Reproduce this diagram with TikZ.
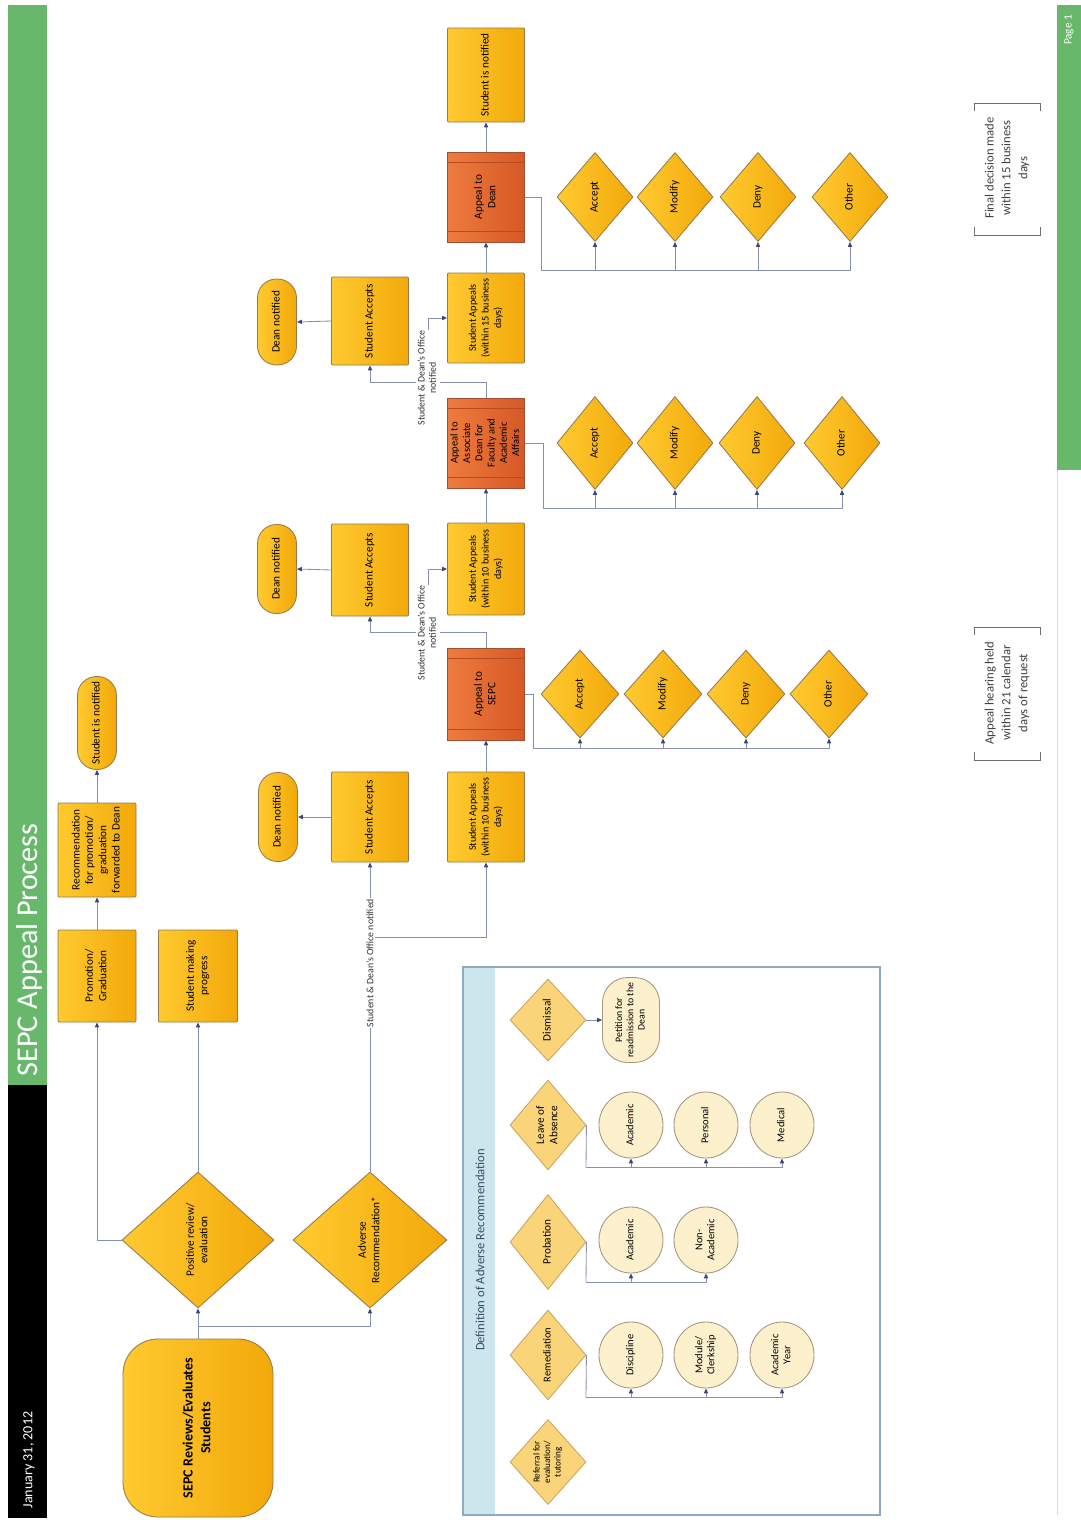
\documentclass[tikz,border=0pt]{standalone}
\usepackage{fontspec}
\setmainfont{Carlito}
\usepackage{graphicx}
\usetikzlibrary{shapes.geometric,arrows.meta}
\newlength\pxu \setlength\pxu{0.05cm}
\newcommand\rtx[1]{\rotatebox{90}{\begin{tabular}{@{}c@{}}#1\end{tabular}}}
\definecolor{gold1}{RGB}{255,202,48}
\definecolor{gold2}{RGB}{242,168,10}
\definecolor{goldb}{RGB}{150,122,75}
\definecolor{or1}{RGB}{238,124,62}
\definecolor{or2}{RGB}{214,88,38}
\definecolor{orb}{RGB}{160,80,50}
\definecolor{orl}{RGB}{185,75,35}
\definecolor{pale}{RGB}{250,212,120}
\definecolor{paleb}{RGB}{200,165,100}
\definecolor{cream}{RGB}{253,240,205}
\definecolor{creamb}{RGB}{165,150,125}
\definecolor{linec}{RGB}{135,145,175}
\definecolor{arrc}{RGB}{60,70,125}
\definecolor{bandg}{RGB}{104,184,108}
\definecolor{defb}{RGB}{140,170,195}
\definecolor{defband}{RGB}{205,230,238}
\definecolor{notec}{RGB}{110,110,120}
\definecolor{thinline}{RGB}{205,228,205}
\tikzset{
 sz/.style 2 args={minimum width=#1\pxu,minimum height=#2\pxu},
 base/.style={inner sep=0pt, text=black, font=\fontsize{16}{19}\selectfont},
 gbox/.style={base, rectangle, draw=goldb, line width=1.2pt, left color=gold1, right color=gold2, rounded corners=1.5pt},
 sapbox/.style={gbox, font=\fontsize{14.5}{18}\selectfont},
 obox/.style={base, rectangle, draw=orb, line width=1.2pt, left color=or1, right color=or2},
 gstad/.style={gbox, rounded corners=19\pxu},
 gdia/.style={base, diamond, draw=goldb, line width=1.2pt, left color=gold1, right color=gold2},
 pdia/.style={base, diamond, draw=paleb, line width=1.2pt, fill=pale},
 circ/.style={base, ellipse, draw=creamb, line width=1.2pt, fill=cream, font=\fontsize{15}{17}\selectfont},
 pbox/.style={base, rectangle, rounded corners=25\pxu, draw=creamb, line width=1.2pt, fill=cream, font=\fontsize{14}{16}\selectfont},
 conn/.style={draw=linec, line width=1.2pt},
 arr/.style={conn, -{Triangle[length=7pt,width=6pt,color=arrc]}},
 lbl/.style={fill=white, inner sep=1.5pt, font=\fontsize{14}{16}\selectfont, text=black!80},
 notetxt/.style={font=\fontsize{18}{24}\selectfont, text=black!75, inner sep=0pt},
 bracket/.style={draw=notec, line width=1.3pt},
 orline/.style={draw=orl, line width=1.2pt},
}
\begin{document}
\begin{tikzpicture}[x=0.05cm,y=-0.05cm]
\useasboundingbox[fill=white] (0,0) rectangle (1081,1520);
% ---- side bands
\fill[bandg] (8,5) rectangle (47,1085);
\fill[black] (8,1085) rectangle (47,1518);
\node[rotate=90, text=white, font=\fontsize{43}{48}\selectfont] (title) at (29,950) {SEPC Appeal Process};
\node[rotate=90, text=white, font=\fontsize{20}{24}\selectfont] (date) at (29,1460) {January 31, 2012};
\fill[bandg] (1057,5) rectangle (1081,470);
\draw[thinline, line width=1pt] (1057,470) -- (1057,1515);
\node[rotate=90, text=white, font=\fontsize{16}{18}\selectfont] (page) at (1069,30) {Page 1};

% ---- left part
\node[gbox, sz={78}{92}] (prom) at (97,976) {\rtx{Promotion/\\Graduation}};
\node[gbox, sz={78}{94}] (rec) at (97,850) {\rtx{Recommendation\\for promotion/\\graduation\\forwarded to Dean}};
\node[gstad, sz={39}{93}] (snot1) at (97,723) {\rtx{Student is notified}};
\node[gbox, sz={79}{92}] (prog) at (198,976) {\rtx{Student making\\progress}};
\node[gbox, rounded corners=35\pxu, sz={150}{178}, font=\fontsize{20}{25}\selectfont\bfseries] (sepc) at (198,1428) {\rtx{SEPC Reviews/Evaluates\\Students}};
\node[gdia, sz={152}{136}] (pos) at (198,1240) {\rtx{Positive review/\\evaluation}};
\node[gdia, sz={154}{136}] (adv) at (370,1240) {\rtx{Adverse\\Recommendation*}};

% ---- column 1
\node[gstad, sz={39}{89}] (dn1) at (278,817) {\rtx{Dean notified}};
\node[gbox, sz={77}{90}] (sa1) at (370,817) {\rtx{Student Accepts}};
\node[sapbox, sz={77}{90}] (sap1) at (486,817) {\rtx{Student Appeals\\(within 10 business\\days)}};
\node[obox, sz={77}{92}] (ap1) at (486,694) {\rtx{Appeal to\\SEPC}};
\node[gdia, sz={78}{88}] (d1a) at (580,694) {\rtx{Accept}};
\node[gdia, sz={78}{88}] (d1b) at (663,694) {\rtx{Modify}};
\node[gdia, sz={78}{88}] (d1c) at (746,694) {\rtx{Deny}};
\node[gdia, sz={78}{88}] (d1d) at (829,694) {\rtx{Other}};

% ---- column 2
\node[gstad, sz={39}{89}] (dn2) at (277,569) {\rtx{Dean notified}};
\node[gbox, sz={77}{92}] (sa2) at (370,570) {\rtx{Student Accepts}};
\node[sapbox, sz={77}{92}] (sap2) at (486,569) {\rtx{Student Appeals\\(within 10 business\\days)}};
\node[obox, sz={77}{90}, font=\fontsize{15}{17.5}\selectfont] (ap2) at (486,443) {\rtx{Appeal to\\Associate\\Dean for\\Faculty and\\Academic\\Affairs}};
\node[gdia, sz={76}{93}] (d2a) at (595,443) {\rtx{Accept}};
\node[gdia, sz={76}{93}] (d2b) at (675,443) {\rtx{Modify}};
\node[gdia, sz={76}{93}] (d2c) at (757,443) {\rtx{Deny}};
\node[gdia, sz={76}{93}] (d2d) at (842,443) {\rtx{Other}};

% ---- column 3
\node[gstad, sz={39}{86}] (dn3) at (277,322) {\rtx{Dean notified}};
\node[gbox, sz={77}{88}] (sa3) at (370,321) {\rtx{Student Accepts}};
\node[sapbox, sz={77}{90}] (sap3) at (486,318) {\rtx{Student Appeals\\(within 15 business\\days)}};
\node[obox, sz={77}{90}] (ap3) at (486,197) {\rtx{Appeal to\\Dean}};
\node[gbox, sz={77}{94}] (sn2) at (486,75) {\rtx{Student is notified}};
\node[gdia, sz={76}{89}] (d3a) at (595,197) {\rtx{Accept}};
\node[gdia, sz={76}{89}] (d3b) at (675,197) {\rtx{Modify}};
\node[gdia, sz={76}{89}] (d3c) at (758,197) {\rtx{Deny}};
\node[gdia, sz={76}{89}] (d3d) at (850,197) {\rtx{Other}};

% orange box bands
\foreach \o in {ap1,ap2,ap3}{
 \draw[orline] ([yshift=-11\pxu]\o.north west) -- ([yshift=-11\pxu]\o.north east);
 \draw[orline] ([yshift=11\pxu]\o.south west) -- ([yshift=11\pxu]\o.south east);
}

% ---- connectors left
\coordinate (j0) at (198,1326);
\draw[conn] (sepc) -- (j0);
\draw[arr] (j0) -- (pos.south);
\draw[arr] (j0) -| (adv.south);
\draw[arr] (pos.west) -| (prom.south);
\draw[arr] (pos.north) -- (prog.south);
\draw[arr] (prom.north) -- (rec.south);
\draw[arr] (rec.north) -- (snot1.south);
\draw[arr] (adv.north) -- (sa1.south);
\coordinate (b1) at (370,937);
\draw[arr] (b1) -| (sap1.south);
\node[lbl, rotate=90] (l1) at (370,963) {Student \& Dean's Office notified};

% ---- connectors column 1
\draw[arr] (sa1.west) -- (dn1.east);
\draw[arr] (sap1.north) -- (ap1.south);
\coordinate (t1) at (533,748);
\draw[conn] (ap1.east) -| (t1);
\foreach \d in {d1a,d1b,d1c,d1d} \draw[arr] (t1) -| (\d.south);

% ---- connectors column 2
\coordinate (c1) at (486,632);
\draw[conn] (ap1.north) -- (c1);
\draw[arr] (c1) -| (sa2.south);
\coordinate (k1) at (428,632);
\draw[arr] (k1) |- (sap2.west);
\node[lbl] (l2) at (428,633) {\rtx{Student \& Dean's Office\\notified}};
\draw[arr] (sa2.west) -- (dn2.east);
\draw[arr] (sap2.north) -- (ap2.south);
\coordinate (t2) at (543,508);
\draw[conn] (ap2.east) -| (t2);
\foreach \d in {d2a,d2b,d2c,d2d} \draw[arr] (t2) -| (\d.south);

% ---- connectors column 3
\coordinate (c2) at (486,382);
\draw[conn] (ap2.north) -- (c2);
\draw[arr] (c2) -| (sa3.south);
\coordinate (k2) at (428,382);
\draw[arr] (k2) |- (sap3.west);
\node[lbl] (l3) at (428,378) {\rtx{Student \& Dean's Office\\notified}};
\draw[arr] (sa3.west) -- (dn3.east);
\draw[arr] (sap3.north) -- (ap3.south);
\draw[arr] (ap3.north) -- (sn2.south);
\coordinate (t3) at (541,270);
\draw[conn] (ap3.east) -| (t3);
\foreach \d in {d3a,d3b,d3c,d3d} \draw[arr] (t3) -| (\d.south);

% ---- definition box
\fill[white] (463,967) rectangle (880,1515);
\fill[defband] (463,967) rectangle (495,1515);
\draw[defb, line width=1.5pt] (463,967) rectangle (880,1515);
\node[rotate=90, font=\fontsize{18}{20}\selectfont, text={rgb,255:red,60;green,75;blue,100}] (deft) at (480,1250) {Definition of Adverse Recommendation};
\node[pdia, sz={76}{82}] (dis) at (548,1020) {\rtx{Dismissal}};
\node[pdia, sz={76}{90}] (loa) at (548,1125) {\rtx{Leave of\\Absence}};
\node[pdia, sz={76}{95}] (prb) at (548,1242) {\rtx{Probation}};
\node[pdia, sz={76}{90}, font=\fontsize{15}{18}\selectfont] (rem) at (548,1355) {\rtx{Remediation}};
\node[pdia, sz={76}{85}, font=\fontsize{13}{15}\selectfont] (ref) at (548,1462) {\rtx{Referral for\\evaluation/\\tutoring}};
\node[pbox, sz={57}{85}] (pet) at (631,1020) {\rtx{Petition for\\readmission to the\\Dean}};
\draw[arr] (dis.east) -- (pet.west);
\node[circ, sz={64}{66}] (lac) at (631,1125) {\rtx{Academic}};
\node[circ, sz={64}{66}] (lper) at (706,1125) {\rtx{Personal}};
\node[circ, sz={64}{66}] (lmed) at (782,1125) {\rtx{Medical}};
\node[circ, sz={64}{66}] (pac) at (631,1240) {\rtx{Academic}};
\node[circ, sz={64}{66}] (pna) at (706,1240) {\rtx{Non-\\Academic}};
\node[circ, sz={64}{66}] (rdis) at (631,1355) {\rtx{Discipline}};
\node[circ, sz={64}{66}] (rmod) at (706,1355) {\rtx{Module/\\Clerkship}};
\node[circ, sz={64}{66}] (ryr) at (782,1355) {\rtx{Academic\\Year}};
\coordinate (h1) at (586,1167);
\draw[conn] (loa.east) -- (h1);
\foreach \c in {lac,lper,lmed} \draw[arr] (h1) -| (\c.south);
\coordinate (h2) at (586,1282);
\draw[conn] (prb.east) -- (h2);
\foreach \c in {pac,pna} \draw[arr] (h2) -| (\c.south);
\coordinate (h3) at (586,1397);
\draw[conn] (rem.east) -- (h3);
\foreach \c in {rdis,rmod,ryr} \draw[arr] (h3) -| (\c.south);

% ---- notes
\node[notetxt] (n1) at (1007,693) {\rtx{Appeal hearing held\\within 21 calendar\\days of request}};
\draw[bracket] (974,635) -- (974,627) -- (1040,627) -- (1040,635);
\draw[bracket] (974,752) -- (974,760) -- (1040,760) -- (1040,752);
\node[notetxt] (n2) at (1007,168) {\rtx{Final decision made\\within 15 business\\days}};
\draw[bracket] (974,111) -- (974,103) -- (1040,103) -- (1040,111);
\draw[bracket] (974,227) -- (974,235) -- (1040,235) -- (1040,227);
\end{tikzpicture}
\end{document}
